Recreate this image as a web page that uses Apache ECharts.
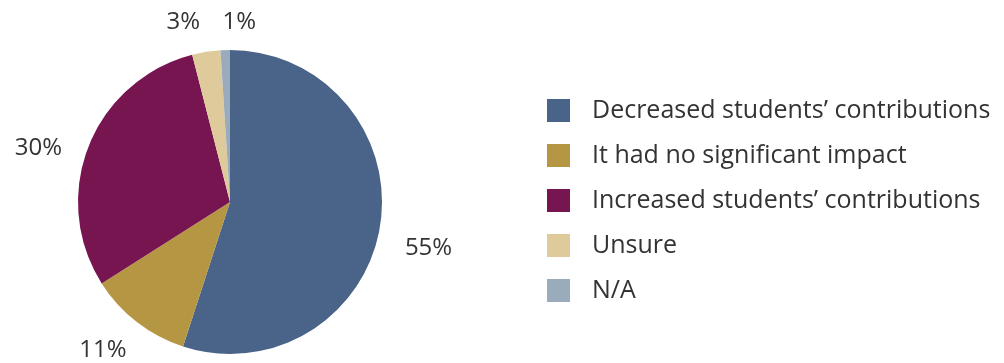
<!DOCTYPE html>
<html>
<head>
<meta charset="utf-8">
<script src="https://cdn.jsdelivr.net/npm/echarts@6/dist/echarts.min.js"></script>
<style>
  html, body { margin: 0; padding: 0; background: #fff; }
  #chart { width: 1004px; height: 363px; }
</style>
</head>
<body>
<div id="chart"></div>
<script>
// 数据
var categories = [
    'Decreased students\u2019 contributions',
    'It had no significant impact',
    'Increased students\u2019 contributions',
    'Unsure',
    'N/A'
];
var values = [55, 11, 30, 3, 1];
var colors = ['#4a6388', '#b59643', '#771551', '#dfca9c', '#9aabbb'];

(function () {
    var myChart = echarts.init(document.getElementById('chart'));

    var pieData = categories.map(function (name, i) {
        return { name: name, value: values[i] };
    });

    // 微调标签位置，让它们更接近原图
    var labelNudge = {
        0: { dx: 0, dy: 19 },
        1: { dx: 7, dy: 12 },
        2: { dx: -3, dy: 9 },
        3: { dx: 2, dy: -10 },
        4: { dx: 3, dy: -8, align: 'left' }
    };

    var option = {
        color: colors,
        animation: false,
        legend: {
            orient: 'vertical',
            left: 542,
            top: 93,
            itemWidth: 23,
            itemHeight: 23,
            itemGap: 20,
            icon: 'rect',
            textStyle: {
                color: '#333',
                fontFamily: 'Open Sans',
                fontSize: 25,
                padding: [0, 0, 0, 17]
            },
            data: categories
        },
        series: [
            {
                type: 'pie',
                center: [230, 202],
                radius: 152,
                startAngle: 90,
                clockwise: true,
                avoidLabelOverlap: false,
                label: {
                    show: true,
                    position: 'outside',
                    formatter: '{c}%',
                    color: '#333',
                    fontFamily: 'Open Sans',
                    fontSize: 24
                },
                labelLine: {
                    show: false,
                    length: 20,
                    length2: 0
                },
                labelLayout: function (params) {
                    return labelNudge[params.dataIndex];
                },
                data: pieData
            }
        ]
    };

    myChart.setOption(option);
})();
</script>
</body>
</html>
